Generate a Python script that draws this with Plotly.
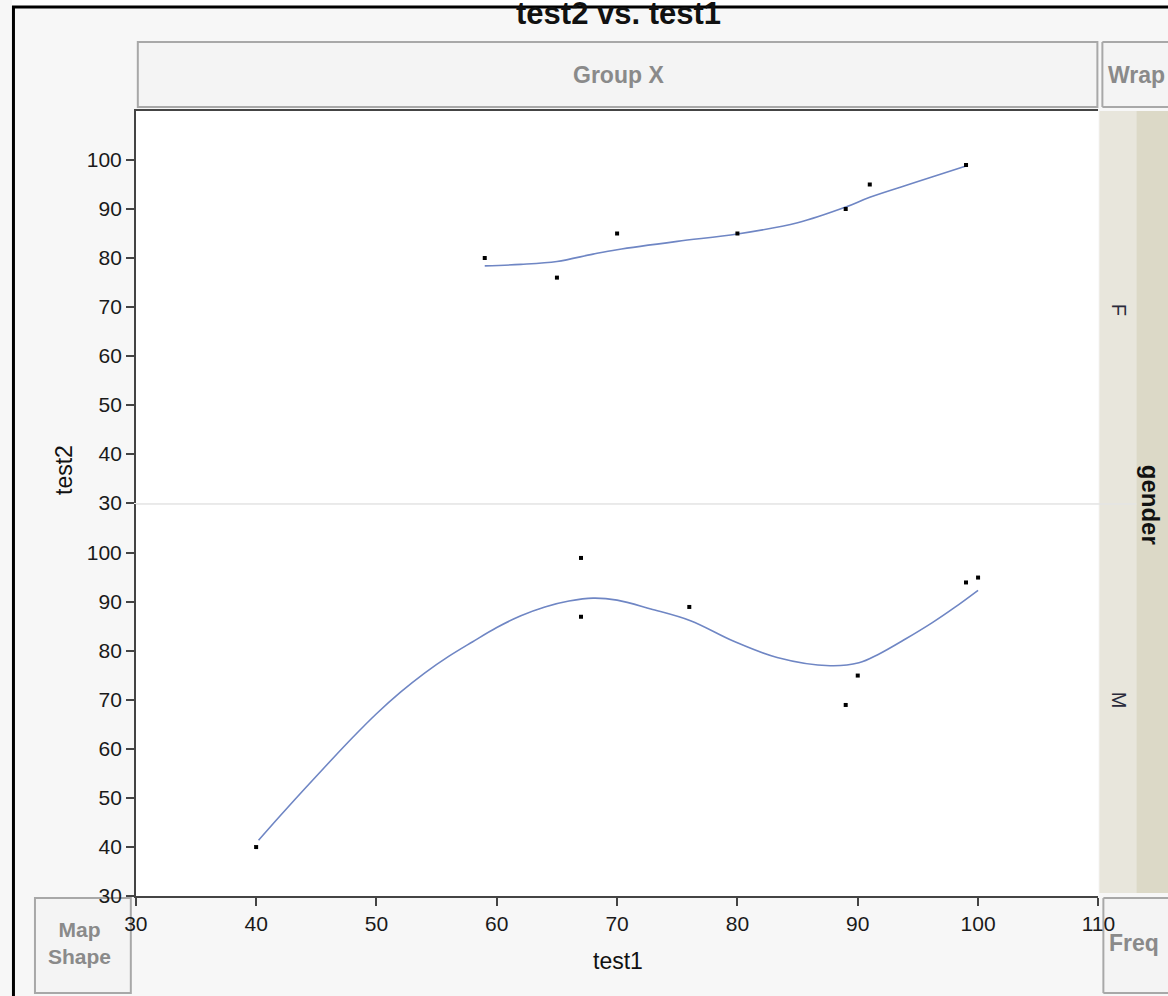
import plotly.graph_objects as go

# ---------------- data ----------------
f_test1 = [59, 65, 70, 80, 89, 91, 99]
f_test2 = [80, 76, 85, 85, 90, 95, 99]
m_test1 = [40, 67, 67, 76, 89, 90, 99, 100]
m_test2 = [40, 99, 87, 89, 69, 75, 94, 95]

# smoother curves
f_smooth_x = [59, 62, 65, 68, 70, 75, 80, 85, 89, 91, 95, 99]
f_smooth_y = [78.4, 78.7, 79.3, 80.8, 81.7, 83.4, 84.9, 87.2, 90.4, 92.4, 95.6, 98.8]
m_smooth_x = [40.2, 42, 44, 46, 48, 50, 52, 54, 56, 58, 60, 62, 64, 66, 68, 70, 72.8, 76.1,
              79.7, 83.3, 87.7, 90.1, 91.7, 94, 96.2, 98, 100]
m_smooth_y = [41.4, 46.4, 51.8, 57.1, 62.3, 67.2, 71.6, 75.5, 78.9, 81.9, 84.8, 87.2, 89.0, 90.2,
              90.8, 90.4, 88.6, 86.2, 82.0, 78.7, 77.0, 77.6, 79.3, 82.5, 85.8, 88.8, 92.4]

x_ticks = [30, 40, 50, 60, 70, 80, 90, 100, 110]
y_ticks = [30, 40, 50, 60, 70, 80, 90, 100]

# layout positions are given in target-picture pixels and mapped to page pixels
OX, SX, OY, SY = 10.0, 0.977, 0.0, 0.989
W = int(round((1168 - OX) / SX)) + 1
H = int(round((996 - OY) / SY)) + 1


def px(r):
    p = (r - OX) / SX
    return min(max(p, 0), W) / W


def py(r):
    p = (r - OY) / SY
    return 1 - min(max(p, 0), H) / H


FONT = "Liberation Sans, Arial, sans-serif"
LINE_COLOR = "#6f86c4"

fig = go.Figure()

fig.add_trace(go.Scatter(x=f_smooth_x, y=f_smooth_y, mode="lines", line=dict(color=LINE_COLOR, width=1.6, shape="spline"),
                         xaxis="x2", yaxis="y2", hoverinfo="skip"))
fig.add_trace(go.Scatter(x=f_test1, y=f_test2, mode="markers",
                         marker=dict(symbol="square", size=4, color="black"), xaxis="x2", yaxis="y2"))
fig.add_trace(go.Scatter(x=m_smooth_x, y=m_smooth_y, mode="lines", line=dict(color=LINE_COLOR, width=1.6, shape="spline"),
                         xaxis="x", yaxis="y", hoverinfo="skip"))
fig.add_trace(go.Scatter(x=m_test1, y=m_test2, mode="markers",
                         marker=dict(symbol="square", size=4, color="black"), xaxis="x", yaxis="y"))

xdom = [px(134), px(1098)]
tickfont = dict(family=FONT, size=21, color="#1a1a1a")

axis_common = dict(showgrid=False, zeroline=False, showline=True, linecolor="#444", linewidth=1.6,
                   ticks="outside", ticklen=8, tickwidth=1.6, tickcolor="#444", tickfont=tickfont)

fig.update_layout(
    width=W, height=H, autosize=False,
    margin=dict(l=0, r=0, t=0, b=0),
    paper_bgcolor="#f7f7f7", plot_bgcolor="white",
    showlegend=False,
    xaxis=dict(domain=xdom, range=[30, 110], tickvals=x_ticks, anchor="y", **axis_common),
    yaxis=dict(domain=[py(896), py(504)], range=[30, 110], tickvals=y_ticks, anchor="x", **axis_common),
    xaxis2=dict(domain=xdom, range=[30, 110], anchor="y2", side="top", showticklabels=False,
                showgrid=False, zeroline=False, showline=True, linecolor="#444", linewidth=1.6, ticks=""),
    yaxis2=dict(domain=[py(503), py(111)], range=[30, 110], tickvals=y_ticks, anchor="x2", **axis_common),
)

BOX_LINE = "#a8a8a8"
BOX_FILL = "#f4f4f4"
shapes = []


def rect(x0, y0, x1, y1, fill, line=None, lw=2, layer="below"):
    shapes.append(dict(type="rect", xref="paper", yref="paper", x0=px(x0), x1=px(x1), y0=py(y1), y1=py(y0),
                       fillcolor=fill, line=dict(color=line or fill, width=lw if line else 0), layer=layer))


def hline(x0, x1, y, color, width, layer="above"):
    shapes.append(dict(type="line", xref="paper", yref="paper", x0=px(x0), x1=px(x1), y0=py(y), y1=py(y),
                       line=dict(color=color, width=width), layer=layer))


def vline(x, y0, y1, color, width, layer="above"):
    shapes.append(dict(type="line", xref="paper", yref="paper", x0=px(x), x1=px(x), y0=py(y0), y1=py(y1),
                       line=dict(color=color, width=width), layer=layer))


rect(136, 42, 1097, 107, BOX_FILL, BOX_LINE)
rect(33, 898, 129, 993, BOX_FILL, BOX_LINE)
rect(1099, 111, 1136, 893, "#e8e6dc")
rect(1136, 111, 1168, 893, "#dcd9c7")
# boxes running off the right edge: draw only their visible sides
rect(1102, 42, 1168, 107, BOX_FILL)
hline(1102, 1168, 42, BOX_LINE, 2, "below")
hline(1102, 1168, 107, BOX_LINE, 2, "below")
vline(1102, 42, 107, BOX_LINE, 2, "below")
rect(1103, 898, 1168, 993, BOX_FILL)
hline(1103, 1168, 898, BOX_LINE, 2, "below")
hline(1103, 1168, 993, BOX_LINE, 2, "below")
vline(1103, 898, 993, BOX_LINE, 2, "below")
hline(134, 1136, 504, "#e4e4e4", 1.5)

GRAY = "#8a8a8a"
annotations = [
    dict(text="<b>test2 vs. test1</b>", x=px(617), y=py(13), font=dict(family=FONT, size=31, color="#111")),
    dict(text="<b>Group X</b>", x=px(617), y=py(75), font=dict(family=FONT, size=23, color=GRAY)),
    dict(text="<b>Wrap</b>", x=px(1136), y=py(75), font=dict(family=FONT, size=23, color=GRAY)),
    dict(text="<b>Map<br>Shape</b>", x=px(78), y=py(943), font=dict(family=FONT, size=21, color=GRAY)),
    dict(text="<b>Freq</b>", x=px(1134), y=py(943), font=dict(family=FONT, size=23, color=GRAY)),
    dict(text="test2", x=px(62), y=py(470), textangle=-90, font=dict(family=FONT, size=23, color="#111")),
    dict(text="test1", x=px(617), y=py(961), font=dict(family=FONT, size=23, color="#111")),
    dict(text="F", x=px(1119), y=py(310), textangle=90, font=dict(family=FONT, size=20, color="#2a2a3a")),
    dict(text="M", x=px(1119), y=py(700), textangle=90, font=dict(family=FONT, size=20, color="#2a2a3a")),
    dict(text="<b>gender</b>", x=px(1151), y=py(505), textangle=90, font=dict(family=FONT, size=24, color="#111")),
]
for a in annotations:
    a.update(xref="paper", yref="paper", showarrow=False, xanchor="center", yanchor="middle")

fig.update_layout(shapes=shapes, annotations=annotations)

# screenshot frame: white outside, black top and left edges (drawn over the cropped title)
fig.add_shape(type="rect", xref="paper", yref="paper", x0=0, x1=1, y0=py(6), y1=1,
              fillcolor="white", line=dict(width=0), layer="above")
fig.add_shape(type="line", xref="paper", yref="paper", x0=0, x1=1, y0=py(7), y1=py(7),
              line=dict(color="black", width=3), layer="above")
fig.add_shape(type="line", xref="paper", yref="paper", x0=1.5 / W, x1=1.5 / W, y0=0, y1=py(6),
              line=dict(color="black", width=3), layer="above")

fig.write_html("out.html", config={"displayModeBar": False, "responsive": False},
               post_script="document.body.style.margin='0';document.body.style.overflow='hidden';")
